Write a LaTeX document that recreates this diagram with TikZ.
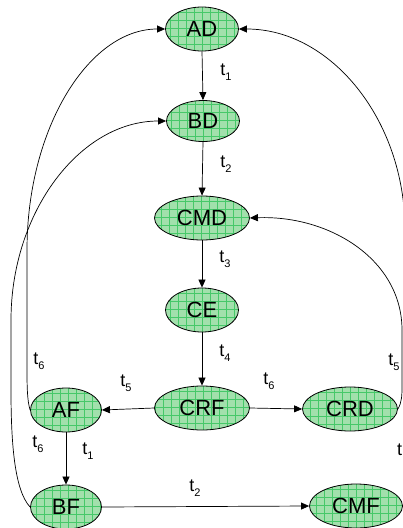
\documentclass[tikz,border=0pt]{standalone}
\usepackage{fontspec}
\setmainfont{Liberation Sans}
\usetikzlibrary{arrows.meta,shapes.geometric}
\definecolor{statefill}{RGB}{162,224,172}
\definecolor{stategrid}{RGB}{70,200,105}
% transition label: t with a lowered index
\newcommand{\tsub}[1]{t\raisebox{-5pt}{\fontsize{11}{11}\selectfont #1}}
\tikzset{
  state/.style={ellipse, draw=black, line width=0.8pt, fill=statefill,
    minimum width=73pt, minimum height=44pt, inner sep=0pt,
    font=\fontsize{22}{22}\selectfont,
    path picture={\draw[stategrid, line width=0.45pt]
      (path picture bounding box.south west) grid[step=8pt]
      (path picture bounding box.north east);}},
  wide/.style={minimum width=95pt},
  conn/.style={draw, line width=0.7pt, -{Triangle[length=8pt,width=7pt]}},
  lbl/.style={font=\fontsize{18}{18}\selectfont, inner sep=0pt}
}
\begin{document}
\begin{tikzpicture}[x=1pt,y=-1pt]
\useasboundingbox (0,0) rectangle (403,528);
\clip (0,0) rectangle (403,528);

% states
\node[state] (AD) at (202,29) {AD};
\node[state, minimum height=41pt] (BD) at (203,121) {BD};
\node[state, wide] (CMD) at (202,218) {CMD};
\node[state] (CE) at (202,310) {CE};
\node[state, wide] (CRF) at (202,408) {CRF};
\node[state, minimum width=71pt] (AF) at (66,410) {AF};
\node[state, minimum width=71pt] (BF) at (66,507) {BF};
\node[state, wide] (CRD) at (350,409) {CRD};
\node[state, minimum width=93pt] (CMF) at (356,506) {CMF};

% straight transitions
\draw[conn] (AD.south) -- (BD.north);
\draw[conn] (BD.south) -- (CMD.north);
\draw[conn] (CMD.south) -- (CE.north);
\draw[conn] (CE.south) -- (CRF.north);
\draw[conn] (CRF.west) -- (AF.east);
\draw[conn] (CRF.east) -- (CRD.west);
\draw[conn] (AF.south) -- (BF.north);
\draw[conn] (BF.east) -- (CMF.west);

% curved transitions
\draw[conn] (AF.west) .. controls (27,400) and (27,385) .. (27,365)
  -- (27,250) .. controls (27,128) and (89,29) .. (AD.west);
\draw[conn] (BF.west) .. controls (14,490) and (11,440) .. (11,390)
  -- (11,320) .. controls (11,212) and (80,121) .. (BD.west);
\draw[conn] (CRD.east) .. controls (402,402) and (402,395) .. (402,385)
  -- (402,330) .. controls (402,260) and (330,215) .. (CMD.east);
\coordinate (offR) at (406,320);
\draw[conn] (offR) -- (405,230) .. controls (405,120) and (331,29) .. (AD.east);

% transition labels
\node[lbl] at (226,72) {\tsub{1}};
\node[lbl] at (226,164) {\tsub{2}};
\node[lbl] at (225,259) {\tsub{3}};
\node[lbl] at (225,353) {\tsub{4}};
\node[lbl] at (126,383) {\tsub{5}};
\node[lbl] at (269,381) {\tsub{6}};
\node[lbl] at (39,361) {\tsub{6}};
\node[lbl] at (394,362) {\tsub{5}};
\node[lbl] at (38,444) {\tsub{6}};
\node[lbl] at (88,451) {\tsub{1}};
\node[lbl] at (195,488) {\tsub{2}};
\node[lbl, anchor=west] at (397,450) {t};
\end{tikzpicture}
\end{document}
